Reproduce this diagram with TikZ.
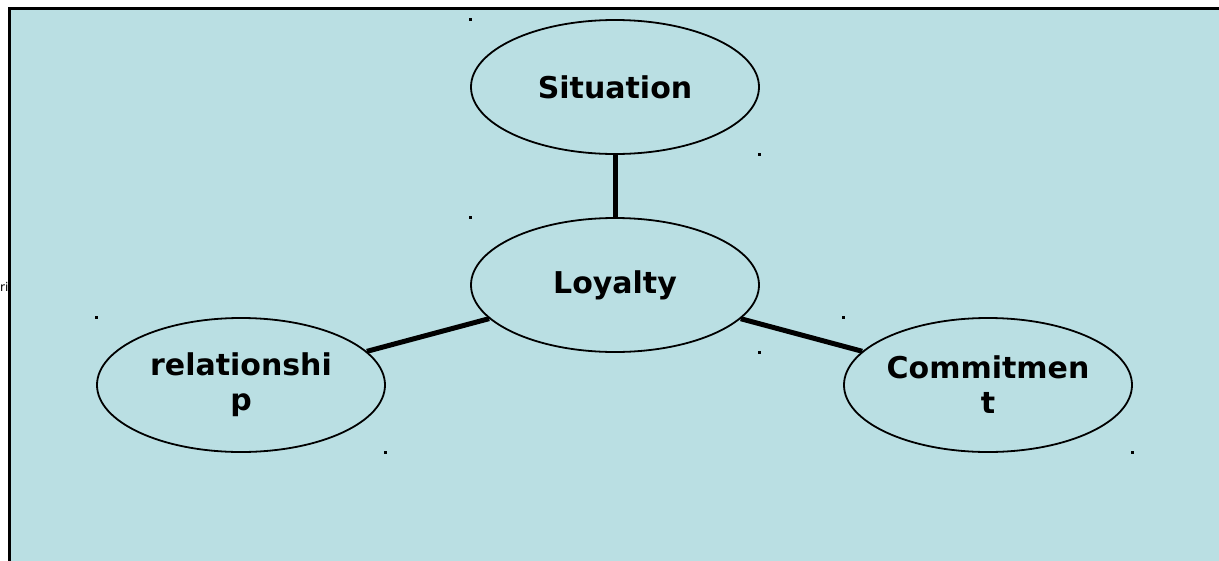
\documentclass[tikz,border=0pt]{standalone}
\usepackage{fontspec}
\setmainfont{DejaVu Sans}
\usetikzlibrary{shapes.geometric}
\definecolor{paleblue}{RGB}{186,223,227}
\tikzset{
	bubble/.style={ellipse, draw, line width=1.8pt, minimum width=288pt, minimum height=134pt,
		inner sep=0pt, align=center, font=\fontsize{30}{35}\selectfont\bfseries},
	link/.style={line width=5pt}
}
\begin{document}
\begin{tikzpicture}[x=1pt,y=-1pt]
	\useasboundingbox (0,0) rectangle (1219,560);
	\clip (0,0) rectangle (1219,560);
	\fill[paleblue] (9,8) rectangle (1230,570);
	\draw[line width=3pt] (9,570) -- (9,8) -- (1230,8);
	\node[anchor=west, inner sep=0pt, font=\fontsize{12}{14}\selectfont] (cut) at (0,287) {ri};
	
	\node[bubble] (sit) at (615,87) {Situation};
	\node[bubble] (loy) at (615,285) {Loyalty};
	\node[bubble] (rel) at (241,385) {relationshi\\p};
	\node[bubble] (com) at (988,385) {Commitmen\\t};
	
	\draw[link] (loy) edge (sit)
	(loy) edge (rel)
	(loy) edge (com);
	
	\foreach \n in {sit,loy,rel,com} {
		\fill (\n.west |- \n.north) ++(-1.5,-1.5) rectangle ++(3,3);
		\fill (\n.east |- \n.south) ++(-1.5,-1.5) rectangle ++(3,3);
	}
\end{tikzpicture}
\end{document}
